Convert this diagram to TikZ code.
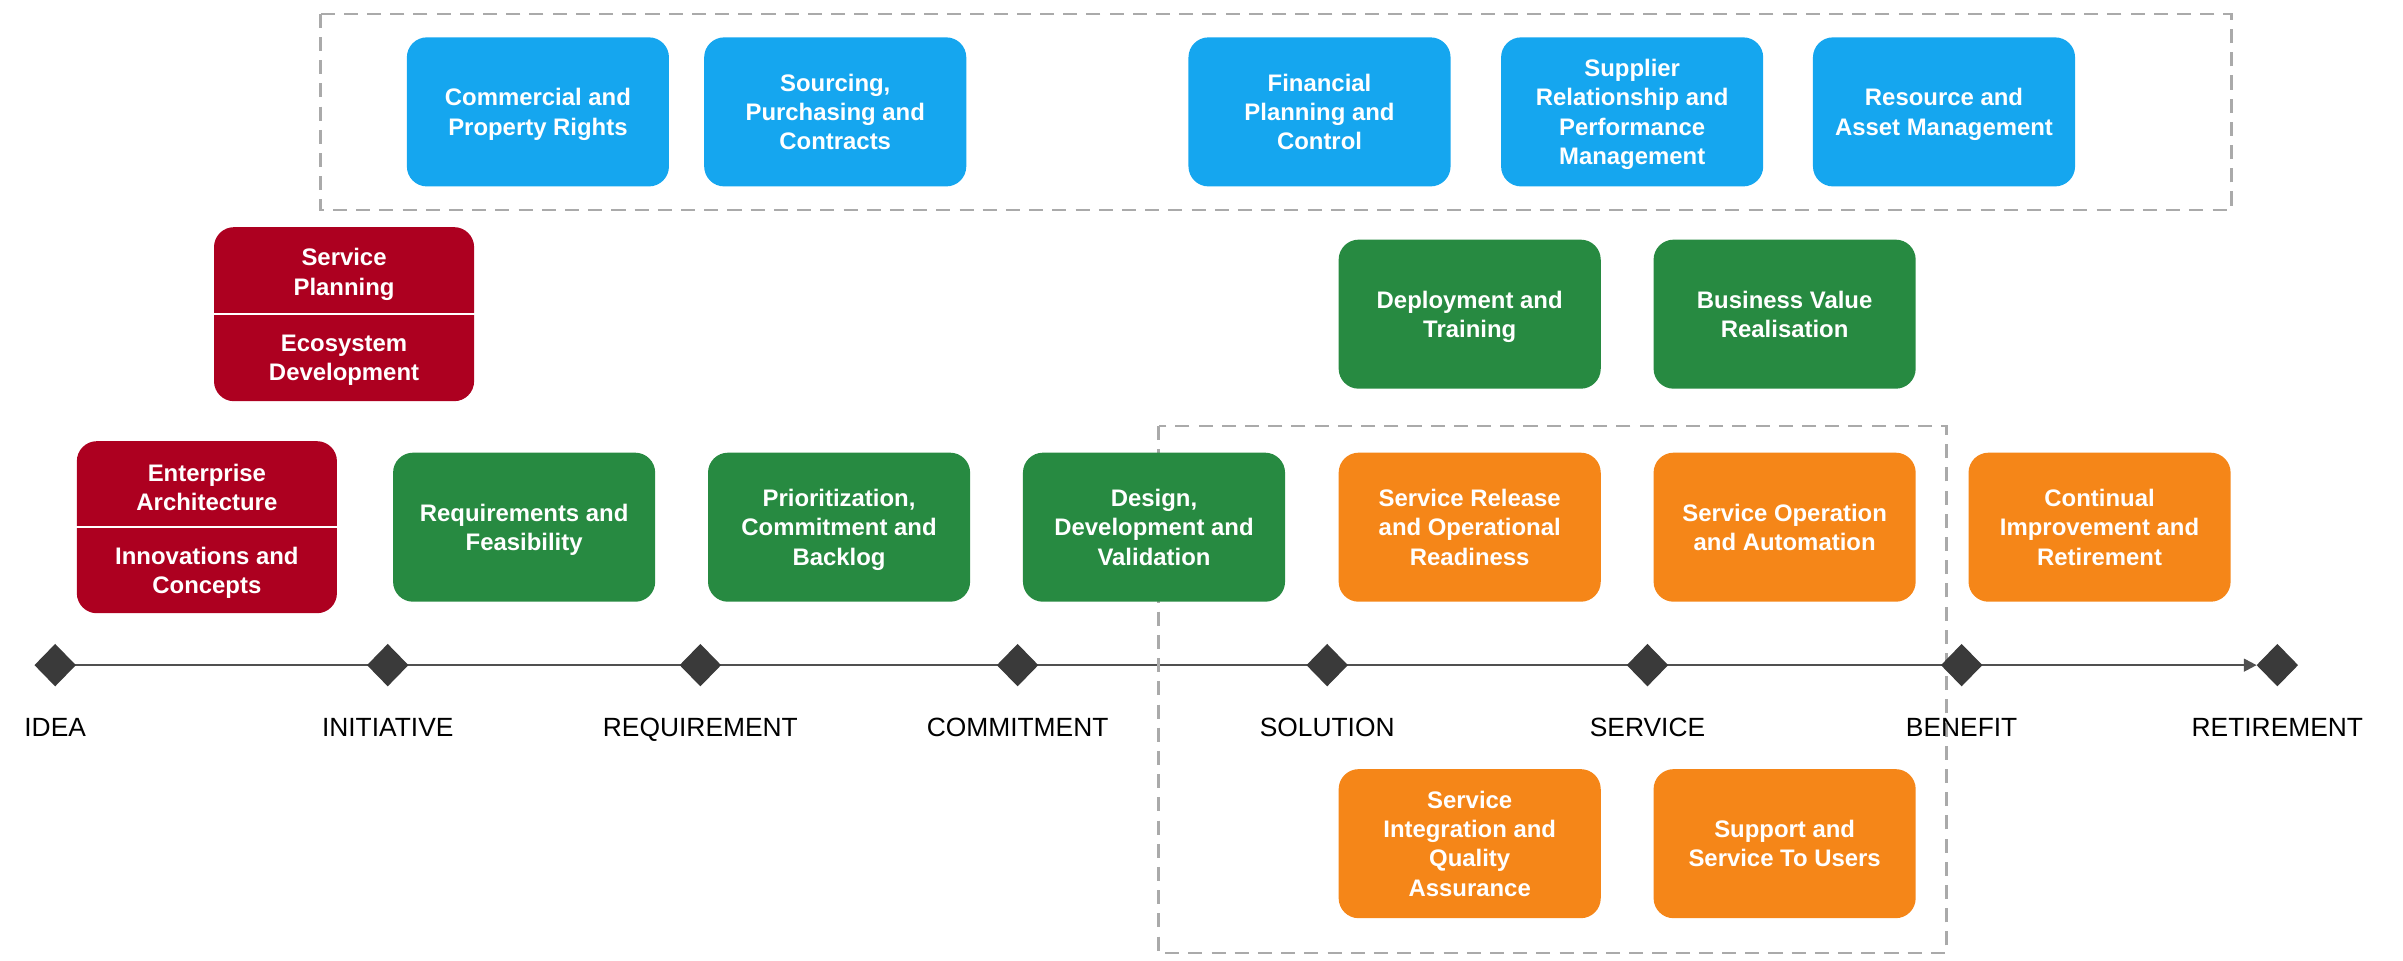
\documentclass[tikz,border=0pt]{standalone}
\usepackage{fontspec}
\setmainfont{Liberation Sans}
\usetikzlibrary{shapes.geometric,arrows.meta,backgrounds}
\definecolor{cblue}{RGB}{21,166,239}
\definecolor{cred}{RGB}{173,0,32}
\definecolor{cgreen}{RGB}{39,138,65}
\definecolor{corange}{RGB}{245,134,24}
\definecolor{cdash}{RGB}{170,170,170}
\definecolor{cdia}{RGB}{58,58,58}
\definecolor{cline}{RGB}{80,80,80}
\tikzset{
  box/.style={rounded corners=0.2cm, minimum width=2.62cm, minimum height=1.49cm,
    inner sep=0pt, text depth=0pt, align=center, text=white, font=\fontsize{6.8}{8.3}\selectfont\bfseries},
  bluebox/.style={box, fill=cblue},
  greenbox/.style={box, fill=cgreen},
  orangebox/.style={box, fill=corange},
  redbox/.style={box, fill=cred, minimum width=2.6cm, minimum height=1.74cm},
  redtext/.style={inner sep=0pt, align=center, text=white, font=\fontsize{6.8}{8.3}\selectfont\bfseries},
  divider/.style={draw=white, line width=0.5pt},
  dashbox/.style={draw=cdash, line width=0.7pt, dash pattern=on 4pt off 2.6pt},
  milestone/.style={diamond, fill=cdia, draw=cdia, inner sep=0pt, minimum width=0.4cm, minimum height=0.41cm},
  mlabel/.style={inner sep=0pt, anchor=base, font=\fontsize{7.5}{9}\selectfont, text=black},
  tline/.style={draw=cline, line width=0.6pt, -{Triangle[length=3.6pt,width=3.6pt]}}
}
\begin{document}
\begin{tikzpicture}[x=0.015325cm,y=-0.015325cm]
\useasboundingbox (0,0) rectangle (1568,627);

% dashed groups
\draw[dashbox] (209,9) rectangle (1456,137);
\draw[dashbox] (756,278) rectangle (1270,622);

% blue row
\node[bluebox] (cpr) at (351,73) {Commercial and\\Property Rights};
\node[bluebox] (spc) at (545,73) {Sourcing,\\Purchasing and\\Contracts};
\node[bluebox] (fpc) at (861,73) {Financial\\Planning and\\Control};
\node[bluebox] (srp) at (1065,73) {Supplier\\Relationship and\\Performance\\Management};
\node[bluebox] (ram) at (1268.5,73) {Resource and\\Asset Management};

% red split box: service planning / ecosystem development
\node[redbox] (sped) at (224.5,205) {};
\draw[divider] (sped.west) -- (sped.east);
\node[redtext] (sp) at (224.5,179) {Service\\Planning};
\node[redtext] (ed) at (224.5,235) {Ecosystem\\Development};

% green upper
\node[greenbox] (dt) at (959,205) {Deployment and\\Training};
\node[greenbox] (bvr) at (1164.5,205) {Business Value\\Realisation};

% red split box: enterprise architecture / innovations
\node[redbox, minimum height=1.72cm] (eaic) at (135,344) {};
\draw[divider] (eaic.west) -- (eaic.east);
\node[redtext] (ea) at (135,318) {Enterprise\\Architecture};
\node[redtext] (ic) at (135,374) {Innovations and\\Concepts};

% lower row
\node[greenbox] (rf) at (342,344) {Requirements and\\Feasibility};
\node[greenbox] (pcb) at (547.5,344) {Prioritization,\\Commitment and\\Backlog};
\node[greenbox] (ddv) at (753,344) {Design,\\Development and\\Validation};
\node[orangebox] (sror) at (959,344) {Service Release\\and Operational\\Readiness};
\node[orangebox] (soa) at (1164.5,344) {Service Operation\\and Automation};
\node[orangebox] (cir) at (1370,344) {Continual\\Improvement and\\Retirement};

% bottom orange
\node[orangebox] (siqa) at (959,550.5) {Service\\Integration and\\Quality\\Assurance};
\node[orangebox] (sstu) at (1164.5,550.5) {Support and\\Service To Users};

% timeline
\node[milestone] (m1) at (36,434) {};
\node[milestone] (m2) at (253,434) {};
\node[milestone] (m3) at (457,434) {};
\node[milestone] (m4) at (664,434) {};
\node[milestone] (m5) at (866,434) {};
\node[milestone] (m6) at (1075,434) {};
\node[milestone] (m7) at (1280,434) {};
\node[milestone] (m8) at (1486,434) {};
\begin{pgfonlayer}{background}
\draw[tline] (m1.center) -- (m8.west);
\end{pgfonlayer}

\node[mlabel] (l1) at (36,480.5) {IDEA};
\node[mlabel] (l2) at (253,480.5) {INITIATIVE};
\node[mlabel] (l3) at (457,480.5) {REQUIREMENT};
\node[mlabel] (l4) at (664,480.5) {COMMITMENT};
\node[mlabel] (l5) at (866,480.5) {SOLUTION};
\node[mlabel] (l6) at (1075,480.5) {SERVICE};
\node[mlabel] (l7) at (1280,480.5) {BENEFIT};
\node[mlabel] (l8) at (1486,480.5) {RETIREMENT};
\end{tikzpicture}
\end{document}
